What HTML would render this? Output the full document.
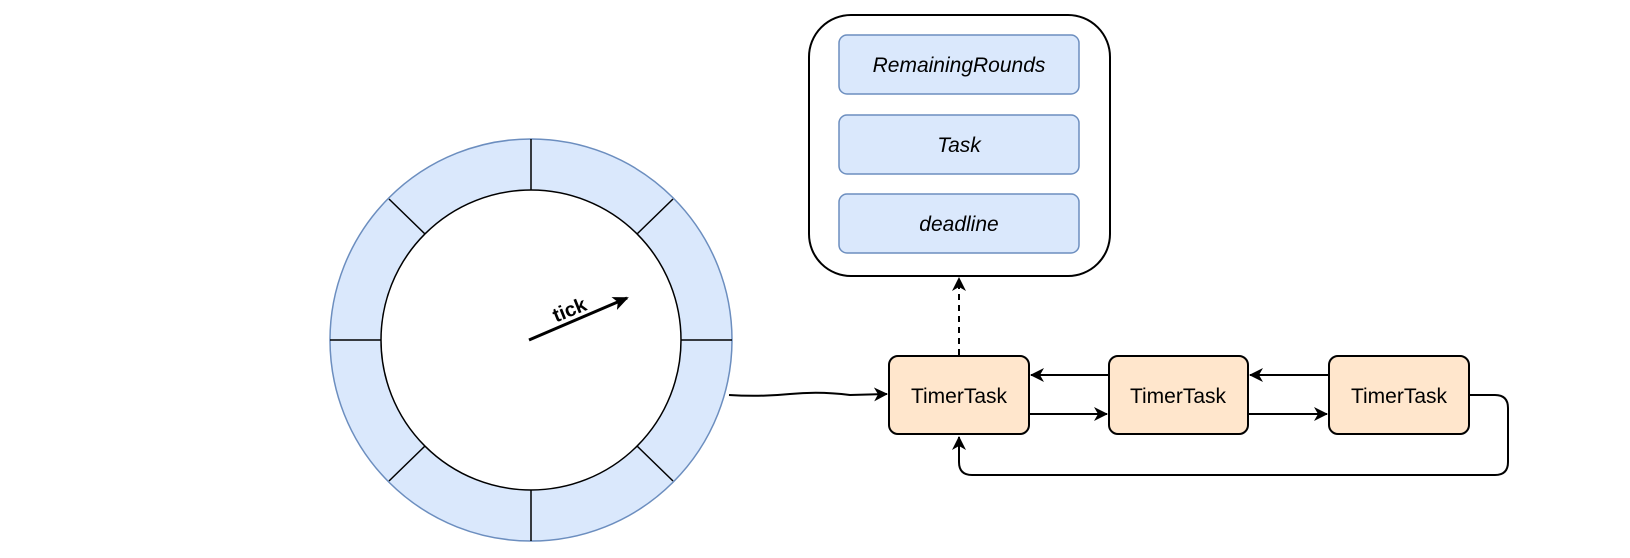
<!DOCTYPE html>
<html><head><meta charset="utf-8"><style>
html,body{margin:0;padding:0;background:#fff;}
svg{display:block;}
text{font-family:"Comic Sans MS","Liberation Sans",sans-serif;}
</style></head><body>
<svg width="1630" height="558" viewBox="0 0 1630 558" xmlns="http://www.w3.org/2000/svg">
<defs>
<marker id="ah" markerWidth="14" markerHeight="14" refX="13" refY="7" orient="auto" markerUnits="userSpaceOnUse" viewBox="0 0 14 14">
<path d="M0,0 L14,7 L0,14 L4,7 Z" fill="#000"/>
</marker>
<marker id="ah2" markerWidth="16" markerHeight="14" refX="14" refY="7" orient="auto" markerUnits="userSpaceOnUse" viewBox="0 0 16 14">
<path d="M0,0 L16,7 L0,14 L4,7 Z" fill="#000"/>
</marker>
</defs>
<circle cx="531" cy="340" r="201" fill="#dae8fc" stroke="#6c8ebf" stroke-width="1.5"/>
<circle cx="531" cy="340" r="150" fill="#fff" stroke="#000" stroke-width="1.5"/>
<g stroke="#000" stroke-width="1.5">
<line x1="531" y1="139" x2="531" y2="190"/>
<line x1="531" y1="490" x2="531" y2="541"/>
<line x1="330" y1="340" x2="381" y2="340"/>
<line x1="681" y1="340" x2="732" y2="340"/>
<line x1="389" y1="199" x2="425" y2="234"/>
<line x1="673" y1="199" x2="637" y2="234"/>
<line x1="389" y1="481" x2="425" y2="446"/>
<line x1="673" y1="481" x2="637" y2="446"/>
</g>
<line x1="529" y1="340" x2="627" y2="298" stroke="#000" stroke-width="3" marker-end="url(#ah2)"/>
<text x="572" y="316" font-size="20" font-weight="bold" transform="rotate(-22 572 316)" text-anchor="middle">tick</text>
<rect x="809" y="15" width="301" height="261" rx="42" fill="#fff" stroke="#000" stroke-width="2"/>
<rect x="839" y="35" width="240" height="59" rx="8" fill="#dae8fc" stroke="#6c8ebf" stroke-width="1.5"/>
<rect x="839" y="115" width="240" height="59" rx="8" fill="#dae8fc" stroke="#6c8ebf" stroke-width="1.5"/>
<rect x="839" y="194" width="240" height="59" rx="8" fill="#dae8fc" stroke="#6c8ebf" stroke-width="1.5"/>
<g font-size="21" font-style="italic" text-anchor="middle">
<text x="959" y="72">RemainingRounds</text>
<text x="959" y="152">Task</text>
<text x="959" y="231">deadline</text>
</g>
<g fill="#ffe6cc" stroke="#000" stroke-width="2">
<rect x="889" y="356" width="140" height="78" rx="9"/>
<rect x="1109" y="356" width="139" height="78" rx="9"/>
<rect x="1329" y="356" width="140" height="78" rx="9"/>
</g>
<g font-size="21" text-anchor="middle">
<text x="959" y="403">TimerTask</text>
<text x="1178" y="403">TimerTask</text>
<text x="1399" y="403">TimerTask</text>
</g>
<g stroke="#000" stroke-width="2" fill="none">
<path d="M729,395 Q760,397 790,394 T850,395 L887,394" marker-end="url(#ah)"/>
<line x1="959" y1="355" x2="959" y2="278" stroke-dasharray="6,5" marker-end="url(#ah)"/>
<line x1="1109" y1="375" x2="1031" y2="375" marker-end="url(#ah)"/>
<line x1="1029" y1="414" x2="1107" y2="414" marker-end="url(#ah)"/>
<line x1="1329" y1="375" x2="1250" y2="375" marker-end="url(#ah)"/>
<line x1="1248" y1="414" x2="1327" y2="414" marker-end="url(#ah)"/>
<path d="M1470,395 L1495,395 Q1508,395 1508,408 L1508,462 Q1508,475 1495,475 L972,475 Q959,475 959,462 L959,437" marker-end="url(#ah)"/>
</g>
</svg>
</body></html>
